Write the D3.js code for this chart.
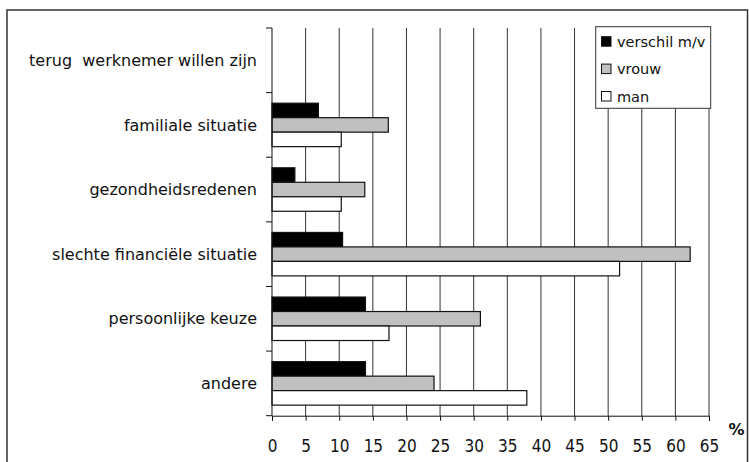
<!DOCTYPE html>
<html><head><meta charset="utf-8">
<script src="https://cdn.jsdelivr.net/npm/d3@7"></script>
<style>body{margin:0;background:#fff}svg{display:block}text{font-family:"DejaVu Sans",sans-serif;fill:#111}</style>
</head><body><svg id="c" width="749" height="462"></svg>
<script>
const categories = ["terug  werknemer willen zijn","familiale situatie","gezondheidsredenen","slechte financiële situatie","persoonlijke keuze","andere"];
const seriesNames = ["verschil m/v","vrouw","man"];
const verschil = [null, 6.9, 3.4, 10.5, 13.9, 13.9];
const vrouw = [null, 17.3, 13.8, 62.2, 31.0, 24.1];
const man = [null, 10.3, 10.3, 51.7, 17.4, 37.9];
const xTicks = [0,5,10,15,20,25,30,35,40,45,50,55,60,65];
const colors = ["#000000","#c0c0c0","#ffffff"];

const svg = d3.select("#c");
svg.append("rect").attr("x",7).attr("y",10).attr("width",740.5).attr("height",470)
  .attr("fill","none").attr("stroke","#333").attr("stroke-width",1.5);

const x = d3.scaleLinear().domain([0,65]).range([272,709]);
const y = d3.scaleBand().domain(categories).range([28,415.7]);
const ys = d3.scaleBand().domain(seriesNames).range([0,y.bandwidth()]).paddingInner(0).paddingOuter(0.73);

// gridlines
svg.append("g").selectAll("line").data(xTicks.slice(1)).join("line")
  .attr("x1",d=>x(d)).attr("x2",d=>x(d)).attr("y1",28).attr("y2",415.7)
  .attr("stroke","#333").attr("stroke-width",1);

const seriesData = [verschil, vrouw, man];
seriesData.forEach((vals,si)=>{
  svg.append("g").selectAll("rect").data(categories.map((c,i)=>({c,v:vals[i]})).filter(d=>d.v!=null)).join("rect")
    .attr("x",x(0)).attr("y",d=>y(d.c)+ys(seriesNames[si]))
    .attr("width",d=>x(d.v)-x(0)).attr("height",ys.bandwidth())
    .attr("fill",colors[si]).attr("stroke","#111").attr("stroke-width",1.2);
});

// x axis
const xa = svg.append("g").attr("transform","translate(0,415.7)")
  .call(d3.axisBottom(x).tickValues(xTicks).tickSize(5));
xa.select(".domain").attr("stroke","#111");
xa.selectAll(".tick line").attr("stroke","#111");
xa.selectAll("text").attr("font-size",18).attr("fill","#111").attr("font-family","DejaVu Sans")
  .attr("y",36.5).attr("dy",null).attr("transform","scale(0.85,1)");

// y axis
svg.append("line").attr("x1",x(0)).attr("x2",x(0)).attr("y1",28).attr("y2",415.7).attr("stroke","#111");
const bounds = categories.map(c=>y(c)).concat([415.7]);
svg.append("g").selectAll("line").data(bounds).join("line")
  .attr("x1",266).attr("x2",272).attr("y1",d=>d).attr("y2",d=>d).attr("stroke","#111");
svg.append("g").selectAll("text").data(categories).join("text")
  .attr("x",257).attr("y",d=>y(d)+y.bandwidth()/2).attr("dy","0.35em")
  .attr("text-anchor","end").attr("font-size",16).attr("xml:space","preserve").style("white-space","pre").text(d=>d);

svg.append("text").attr("x",736.5).attr("y",429.5).attr("dy","0.35em").attr("text-anchor","middle").attr("font-size",16).attr("font-weight","bold").text("%");

// legend
const lg = svg.append("g");
lg.append("rect").attr("x",595.7).attr("y",26.7).attr("width",115).attr("height",81.6).attr("fill","#fff").attr("stroke","#333");
seriesNames.forEach((s,i)=>{
  const cy = 41.7 + i*27.4;
  lg.append("rect").attr("x",601.5).attr("y",cy-5).attr("width",9.5).attr("height",9.5).attr("fill",colors[i]).attr("stroke","#111");
  lg.append("text").attr("x",617).attr("y",cy).attr("dy","0.35em").attr("font-size",14.5).text(s);
});
</script></body></html>
